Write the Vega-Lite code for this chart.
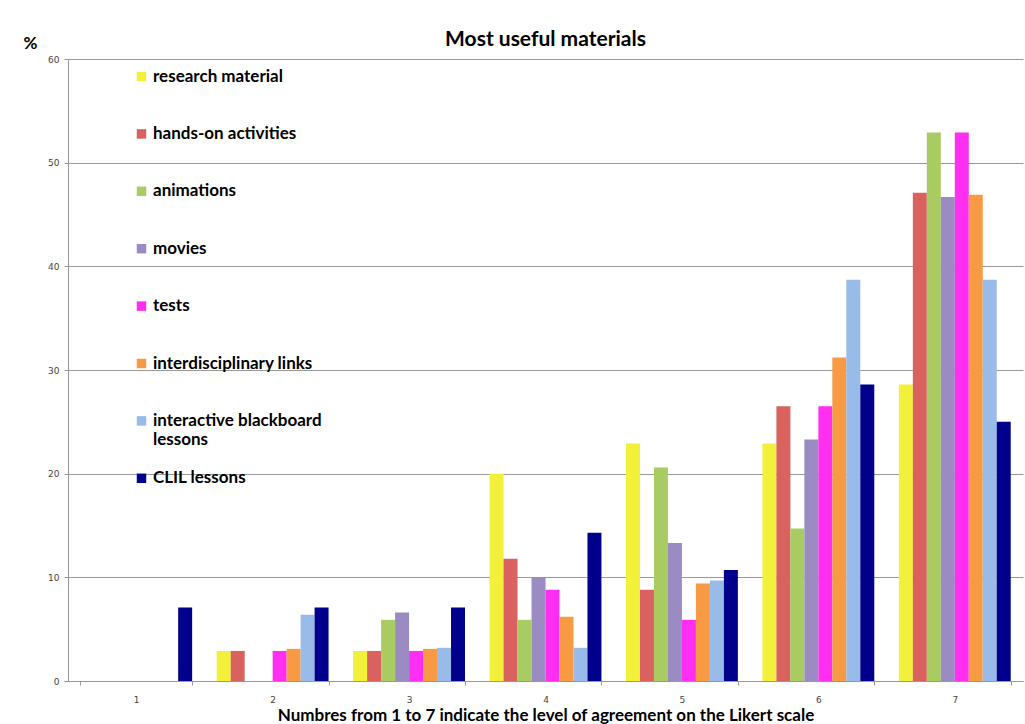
{
  "$schema": "https://vega.github.io/schema/vega-lite/v6.json",
  "width": 955,
  "height": 622,
  "autosize": {"type": "none"},
  "padding": {"left": 68, "top": 59, "right": 2, "bottom": 43},
  "background": "white",
  "title": {"text": "Most useful materials", "font": "Lato", "fontSize": 21, "fontWeight": "bold", "color": "#000", "anchor": "middle", "offset": -16},
  "data": {"values": [
    {"score": "1", "material": "research material", "pct": 0},
    {"score": "1", "material": "hands-on activities", "pct": 0},
    {"score": "1", "material": "animations", "pct": 0},
    {"score": "1", "material": "movies", "pct": 0},
    {"score": "1", "material": "tests", "pct": 0},
    {"score": "1", "material": "interdisciplinary links", "pct": 0},
    {"score": "1", "material": "interactive blackboard lessons", "pct": 0},
    {"score": "1", "material": "CLIL lessons", "pct": 7.1},
    {"score": "2", "material": "research material", "pct": 2.9},
    {"score": "2", "material": "hands-on activities", "pct": 2.9},
    {"score": "2", "material": "animations", "pct": 0},
    {"score": "2", "material": "movies", "pct": 0},
    {"score": "2", "material": "tests", "pct": 2.9},
    {"score": "2", "material": "interdisciplinary links", "pct": 3.1},
    {"score": "2", "material": "interactive blackboard lessons", "pct": 6.4},
    {"score": "2", "material": "CLIL lessons", "pct": 7.1},
    {"score": "3", "material": "research material", "pct": 2.9},
    {"score": "3", "material": "hands-on activities", "pct": 2.9},
    {"score": "3", "material": "animations", "pct": 5.9},
    {"score": "3", "material": "movies", "pct": 6.6},
    {"score": "3", "material": "tests", "pct": 2.9},
    {"score": "3", "material": "interdisciplinary links", "pct": 3.1},
    {"score": "3", "material": "interactive blackboard lessons", "pct": 3.2},
    {"score": "3", "material": "CLIL lessons", "pct": 7.1},
    {"score": "4", "material": "research material", "pct": 20},
    {"score": "4", "material": "hands-on activities", "pct": 11.8},
    {"score": "4", "material": "animations", "pct": 5.9},
    {"score": "4", "material": "movies", "pct": 10},
    {"score": "4", "material": "tests", "pct": 8.8},
    {"score": "4", "material": "interdisciplinary links", "pct": 6.2},
    {"score": "4", "material": "interactive blackboard lessons", "pct": 3.2},
    {"score": "4", "material": "CLIL lessons", "pct": 14.3},
    {"score": "5", "material": "research material", "pct": 22.9},
    {"score": "5", "material": "hands-on activities", "pct": 8.8},
    {"score": "5", "material": "animations", "pct": 20.6},
    {"score": "5", "material": "movies", "pct": 13.3},
    {"score": "5", "material": "tests", "pct": 5.9},
    {"score": "5", "material": "interdisciplinary links", "pct": 9.4},
    {"score": "5", "material": "interactive blackboard lessons", "pct": 9.7},
    {"score": "5", "material": "CLIL lessons", "pct": 10.7},
    {"score": "6", "material": "research material", "pct": 22.9},
    {"score": "6", "material": "hands-on activities", "pct": 26.5},
    {"score": "6", "material": "animations", "pct": 14.7},
    {"score": "6", "material": "movies", "pct": 23.3},
    {"score": "6", "material": "tests", "pct": 26.5},
    {"score": "6", "material": "interdisciplinary links", "pct": 31.2},
    {"score": "6", "material": "interactive blackboard lessons", "pct": 38.7},
    {"score": "6", "material": "CLIL lessons", "pct": 28.6},
    {"score": "7", "material": "research material", "pct": 28.6},
    {"score": "7", "material": "hands-on activities", "pct": 47.1},
    {"score": "7", "material": "animations", "pct": 52.9},
    {"score": "7", "material": "movies", "pct": 46.7},
    {"score": "7", "material": "tests", "pct": 52.9},
    {"score": "7", "material": "interdisciplinary links", "pct": 46.9},
    {"score": "7", "material": "interactive blackboard lessons", "pct": 38.7},
    {"score": "7", "material": "CLIL lessons", "pct": 25.0}
  ]},
  "mark": {"type": "bar"},
  "encoding": {
    "x": {
      "field": "score", "type": "nominal", "sort": ["1","2","3","4","5","6","7"],
      "scale": {"paddingInner": 0.18, "paddingOuter": 0.09},
      "axis": {
        "title": "Numbres from 1 to 7 indicate the level of agreement on the Likert scale",
        "titleFont": "Lato", "titleFontSize": 17, "titleFontWeight": "bold", "titleColor": "#000",
        "titlePadding": 3,
        "labelAngle": 0, "labelFont": "DejaVu Sans", "labelFontSize": 9, "labelColor": "#444", "labelPadding": 10,
        "tickBand": "extent", "tickColor": "#999", "tickSize": 4, "domainColor": "#999", "grid": false
      }
    },
    "xOffset": {"field": "material", "type": "nominal", "sort": ["research material","hands-on activities","animations","movies","tests","interdisciplinary links","interactive blackboard lessons","CLIL lessons"], "scale": {"paddingInner": 0, "paddingOuter": 0}},
    "y": {
      "field": "pct", "type": "quantitative",
      "scale": {"domain": [0, 60], "nice": false},
      "axis": {
        "title": "%", "titleAngle": 0, "titleFont": "Lato", "titleFontSize": 17, "titleFontWeight": "bold", "titleColor": "#000",
        "titleX": -38, "titleY": -11, "titleAlign": "center", "titleBaseline": "alphabetic",
        "values": [0,10,20,30,40,50,60], "labelFont": "DejaVu Sans", "labelFontSize": 9, "labelColor": "#444", "labelPadding": 5,
        "tickColor": "#999", "tickSize": 4, "domainColor": "#999", "gridColor": "#999", "gridWidth": 1
      }
    },
    "color": {
      "field": "material", "type": "nominal",
      "sort": ["research material","hands-on activities","animations","movies","tests","interdisciplinary links","interactive blackboard lessons","CLIL lessons"],
      "scale": {"range": ["#f2f03a","#d9625f","#a8cc62","#9a8cc2","#ff2ef0","#f89a44","#98bbea","#00008c"]},
      "legend": {
        "title": null, "orient": "none", "legendX": 65, "legendY": 9,
        "symbolType": "square", "symbolSize": 90, "symbolStrokeWidth": 0,
        "labelFont": "Lato", "labelFontSize": 17, "labelFontWeight": "bold", "labelColor": "#000",
        "labelLimit": 400, "rowPadding": 20.4, "labelOffset": 3,
        "labelExpr": "datum.label == 'interactive blackboard lessons' ? ['interactive blackboard', 'lessons'] : [datum.label, '']"
      }
    }
  },
  "config": {"view": {"stroke": null}}
}
